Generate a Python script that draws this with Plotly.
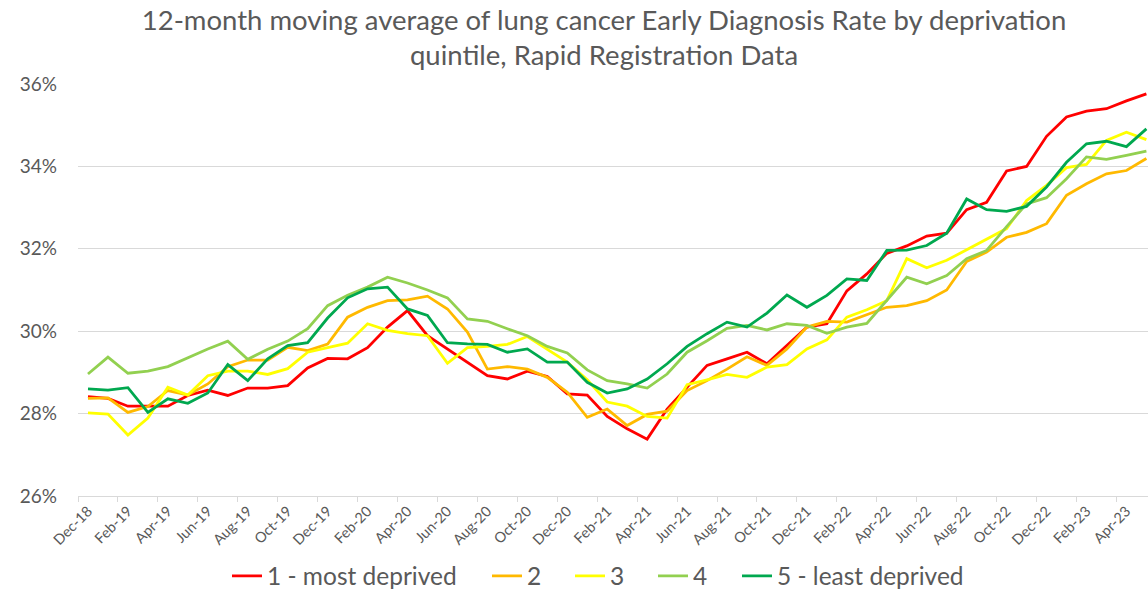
import plotly.graph_objects as go

months = ["Dec-18", "Jan-19", "Feb-19", "Mar-19", "Apr-19", "May-19", "Jun-19", "Jul-19",
          "Aug-19", "Sep-19", "Oct-19", "Nov-19", "Dec-19", "Jan-20", "Feb-20", "Mar-20",
          "Apr-20", "May-20", "Jun-20", "Jul-20", "Aug-20", "Sep-20", "Oct-20", "Nov-20",
          "Dec-20", "Jan-21", "Feb-21", "Mar-21", "Apr-21", "May-21", "Jun-21", "Jul-21",
          "Aug-21", "Sep-21", "Oct-21", "Nov-21", "Dec-21", "Jan-22", "Feb-22", "Mar-22",
          "Apr-22", "May-22", "Jun-22", "Jul-22", "Aug-22", "Sep-22", "Oct-22", "Nov-22",
          "Dec-22", "Jan-23", "Feb-23", "Mar-23", "Apr-23", "May-23"]

q1_most_deprived = [28.41, 28.37, 28.18, 28.18, 28.18, 28.44, 28.57, 28.44, 28.62, 28.62,
                    28.68, 29.11, 29.34, 29.33, 29.60, 30.10, 30.50, 29.89, 29.57, 29.25,
                    28.92, 28.84, 29.03, 28.90, 28.48, 28.45, 27.93, 27.63, 27.38, 28.11,
                    28.64, 29.17, 29.33, 29.49, 29.21, 29.65, 30.10, 30.18, 30.98, 31.39,
                    31.89, 32.07, 32.31, 32.38, 32.95, 33.13, 33.89, 34.00, 34.73, 35.20,
                    35.34, 35.40, 35.59, 35.76]
q2 = [28.37, 28.38, 28.03, 28.17, 28.56, 28.45, 28.72, 29.14, 29.30, 29.30,
      29.61, 29.53, 29.69, 30.34, 30.58, 30.74, 30.76, 30.85, 30.54, 29.98,
      29.08, 29.14, 29.08, 28.88, 28.52, 27.91, 28.11, 27.71, 27.98, 28.06,
      28.56, 28.80, 29.08, 29.38, 29.17, 29.57, 30.10, 30.24, 30.22, 30.40,
      30.58, 30.62, 30.74, 31.00, 31.69, 31.92, 32.28, 32.40, 32.61, 33.30,
      33.58, 33.82, 33.90, 34.19]
q3 = [28.02, 27.99, 27.48, 27.89, 28.64, 28.45, 28.92, 29.03, 29.03, 28.95,
      29.09, 29.49, 29.60, 29.71, 30.18, 30.02, 29.94, 29.89, 29.22, 29.60,
      29.63, 29.68, 29.87, 29.55, 29.25, 28.82, 28.28, 28.18, 27.93, 27.89,
      28.70, 28.82, 28.95, 28.88, 29.13, 29.19, 29.57, 29.79, 30.34, 30.52,
      30.74, 31.76, 31.54, 31.72, 31.98, 32.24, 32.49, 33.17, 33.54, 33.97,
      34.05, 34.63, 34.83, 34.65]
q4 = [28.96, 29.37, 28.98, 29.03, 29.14, 29.35, 29.57, 29.76, 29.32, 29.56,
      29.76, 30.06, 30.62, 30.87, 31.07, 31.31, 31.17, 31.00, 30.81, 30.30,
      30.24, 30.06, 29.89, 29.63, 29.47, 29.06, 28.80, 28.72, 28.62, 28.96,
      29.49, 29.77, 30.07, 30.14, 30.03, 30.18, 30.14, 29.95, 30.10, 30.19,
      30.74, 31.31, 31.15, 31.35, 31.76, 31.96, 32.54, 33.09, 33.24, 33.70,
      34.23, 34.17, 34.27, 34.37]
q5_least_deprived = [28.60, 28.57, 28.63, 28.03, 28.36, 28.25, 28.50, 29.19, 28.80, 29.33,
                     29.65, 29.72, 30.32, 30.81, 31.03, 31.07, 30.54, 30.38, 29.72, 29.69,
                     29.68, 29.49, 29.57, 29.25, 29.25, 28.76, 28.50, 28.60, 28.84, 29.21,
                     29.63, 29.94, 30.22, 30.10, 30.44, 30.88, 30.58, 30.87, 31.27, 31.23,
                     31.96, 31.97, 32.08, 32.38, 33.21, 32.95, 32.91, 33.03, 33.50, 34.10,
                     34.55, 34.61, 34.48, 34.91]

series_names = ["1 - most deprived", "2", "3", "4", "5 - least deprived"]
series_values = [q1_most_deprived, q2, q3, q4, q5_least_deprived]
series_colors = ["#FF0000", "#FFB900", "#FFFF00", "#92D050", "#00A84F"]

y_ticks = [26, 28, 30, 32, 34, 36]

FONT = "Lato"
GREY = "#595959"
GRID = "#D9D9D9"

W, H = 1148, 589
ML, MT, MB = 78, 84, 93
PW = W - ML
PH = H - MT - MB

# left edges (pixels) of each legend entry, as laid out in the reference
legend_left_px = [232, 492, 575, 658, 742]
legend_ids = ["legend", "legend2", "legend3", "legend4", "legend5"]

x = list(range(len(months)))
label_idx = x[::2]

fig = go.Figure()
for name, vals, col, lid in zip(series_names, series_values, series_colors, legend_ids):
    fig.add_trace(go.Scatter(x=x, y=vals, mode="lines", name=name, legend=lid,
                             line=dict(color=col, width=2.8)))

legend_y = (PH - (576 - MT)) / PH
legend_layouts = {}
for lid, px in zip(legend_ids, legend_left_px):
    legend_layouts[lid] = dict(orientation="h", x=(px - 5 - ML) / PW, xanchor="left",
                               y=legend_y, yanchor="middle",
                               font=dict(family=FONT, size=24.5, color=GREY),
                               itemwidth=30, bgcolor="rgba(0,0,0,0)")

fig.update_layout(
    width=W, height=H,
    paper_bgcolor="white", plot_bgcolor="white",
    margin=dict(l=ML, r=0, t=MT, b=MB, autoexpand=False),
    font=dict(family=FONT, color=GREY),
    title=dict(text="12-month moving average of lung cancer Early Diagnosis Rate by deprivation<br>quintile, Rapid Registration Data",
               x=604 / W, xanchor="center", y=1 - 29.5 / H, yanchor="middle",
               font=dict(family=FONT, size=27.5, color=GREY)),
    showlegend=True,
    hovermode=False,
    **legend_layouts,
)

fig.update_xaxes(
    range=[-0.5, 53.08], automargin=False,
    tickmode="array", tickvals=label_idx, ticktext=[months[i] for i in label_idx],
    tickangle=-45, ticks="", showgrid=False, zeroline=False,
    showline=True, linecolor=GRID, linewidth=1,
    tickfont=dict(family=FONT, size=14.5, color=GREY),
    minor=dict(tickmode="array", tickvals=[i - 0.5 for i in label_idx] + [label_idx[-1] + 1.5],
               ticks="outside", ticklen=5, tickcolor=GRID, tickwidth=1, showgrid=False),
)
fig.update_yaxes(
    range=[26, 36], automargin=False, tickmode="array", tickvals=y_ticks,
    ticktext=[f"{v}%" for v in y_ticks],
    showgrid=True, gridcolor=GRID, gridwidth=1, zeroline=False, showline=False,
    ticks="", ticklabelstandoff=20,
    tickfont=dict(family=FONT, size=19, color=GREY),
)

fig.write_html("out.html", config={"displayModeBar": False},
               post_script="document.body.style.margin='0';document.body.style.overflow='hidden';")
